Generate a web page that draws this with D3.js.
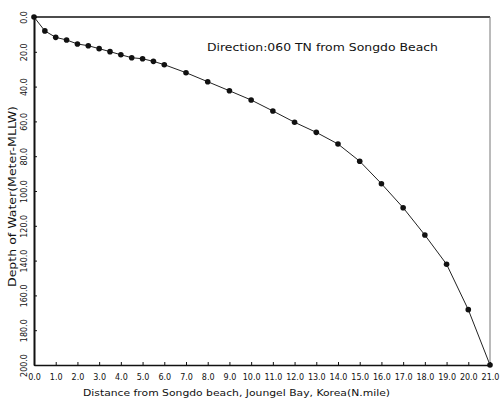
<!DOCTYPE html>
<html lang="en">
<head>
  <meta charset="UTF-8">
  <title>Depth profile from Songdo Beach</title>
  <script src="https://d3js.org/d3.v7.min.js"></script>
  <style>
    body { margin: 0; background: #fff; }
    text { font-family: "DejaVu Sans", sans-serif; fill: #111; }
  </style>
</head>
<body>
<div id="chart"></div>
<script>
  // distance from beach (N.mile) and water depth (m, MLLW)
  var distance = [0, 0.5, 1, 1.5, 2, 2.5, 3, 3.5, 4, 4.5, 5, 5.5, 6, 7, 8, 9, 10,
                  11, 12, 13, 14, 15, 16, 17, 18, 19, 20, 21];
  var depth = [0, 8.0, 11.7, 13.2, 15.5, 16.5, 18.2, 19.9, 21.7, 23.4, 24.0, 25.5, 27.4,
               32.0, 37.2, 42.4, 47.7, 54.0, 60.5, 66.3, 73.0, 82.9, 95.8, 109.6,
               125.3, 142.1, 168.2, 200];
  var xTicks = d3.range(0, 22, 1);
  var yTicks = d3.range(0, 201, 20);

  var width = 501, height = 401;
  var svg = d3.select("#chart").append("svg")
    .attr("width", width)
    .attr("height", height);

  var x = d3.scaleLinear().domain([0, 21]).range([34, 490]);
  var y = d3.scaleLinear().domain([0, 200]).range([17, 365]);

  // frame: top and right edges
  svg.append("line")
    .attr("x1", x(0)).attr("x2", x(21))
    .attr("y1", y(0)).attr("y2", y(0))
    .attr("stroke", "#111").attr("stroke-width", 1.5);
  svg.append("line")
    .attr("x1", x(21)).attr("x2", x(21))
    .attr("y1", y(0)).attr("y2", y(200))
    .attr("stroke", "#777").attr("stroke-width", 1);

  // bottom axis
  var xAxis = svg.append("g")
    .attr("transform", "translate(0," + y(200) + ")")
    .call(d3.axisBottom(x).tickValues(xTicks).tickFormat(d3.format(".1f"))
      .tickSizeInner(-3).tickSizeOuter(0).tickPadding(9));
  xAxis.select(".domain").attr("stroke", "#111").attr("stroke-width", 1.5);
  xAxis.selectAll(".tick line").attr("stroke", "#111");
  xAxis.selectAll("text").attr("font-size", 8).attr("fill", "#111");

  // left axis, labels turned sideways
  var yAxis = svg.append("g")
    .attr("transform", "translate(" + x(0) + ",0)")
    .call(d3.axisLeft(y).tickValues(yTicks).tickFormat(d3.format(".1f"))
      .tickSizeInner(-3).tickSizeOuter(0));
  yAxis.select(".domain").attr("stroke", "#111").attr("stroke-width", 2);
  yAxis.selectAll(".tick line").attr("stroke", "#111");
  yAxis.selectAll(".tick text")
    .attr("x", null).attr("dy", null)
    .attr("font-size", 8).attr("fill", "#111")
    .attr("text-anchor", "middle")
    .attr("transform", "translate(-7,0) rotate(-90)");

  // profile line
  var line = d3.line()
    .x(function(d, i) { return x(distance[i]); })
    .y(function(d) { return y(d); });
  svg.append("path")
    .datum(depth)
    .attr("d", line)
    .attr("fill", "none")
    .attr("stroke", "#222")
    .attr("stroke-width", 1);

  svg.selectAll("circle.pt")
    .data(depth)
    .enter().append("circle")
    .attr("class", "pt")
    .attr("cx", function(d, i) { return x(distance[i]); })
    .attr("cy", function(d) { return y(d); })
    .attr("r", 2.8)
    .attr("fill", "#111");

  // labels
  svg.append("text")
    .attr("x", 207).attr("y", 51)
    .attr("font-size", 10)
    .attr("textLength", 231).attr("lengthAdjust", "spacingAndGlyphs")
    .text("Direction:060 TN from Songdo Beach");

  svg.append("text")
    .attr("x", 83).attr("y", 396)
    .attr("font-size", 9.5)
    .attr("textLength", 307).attr("lengthAdjust", "spacingAndGlyphs")
    .text("Distance from Songdo beach, Joungel Bay, Korea(N.mile)");

  svg.append("text")
    .attr("transform", "translate(16,287) rotate(-90)")
    .attr("font-size", 10)
    .attr("textLength", 181).attr("lengthAdjust", "spacingAndGlyphs")
    .text("Depth of Water(Meter-MLLW)");
</script>
</body>
</html>
